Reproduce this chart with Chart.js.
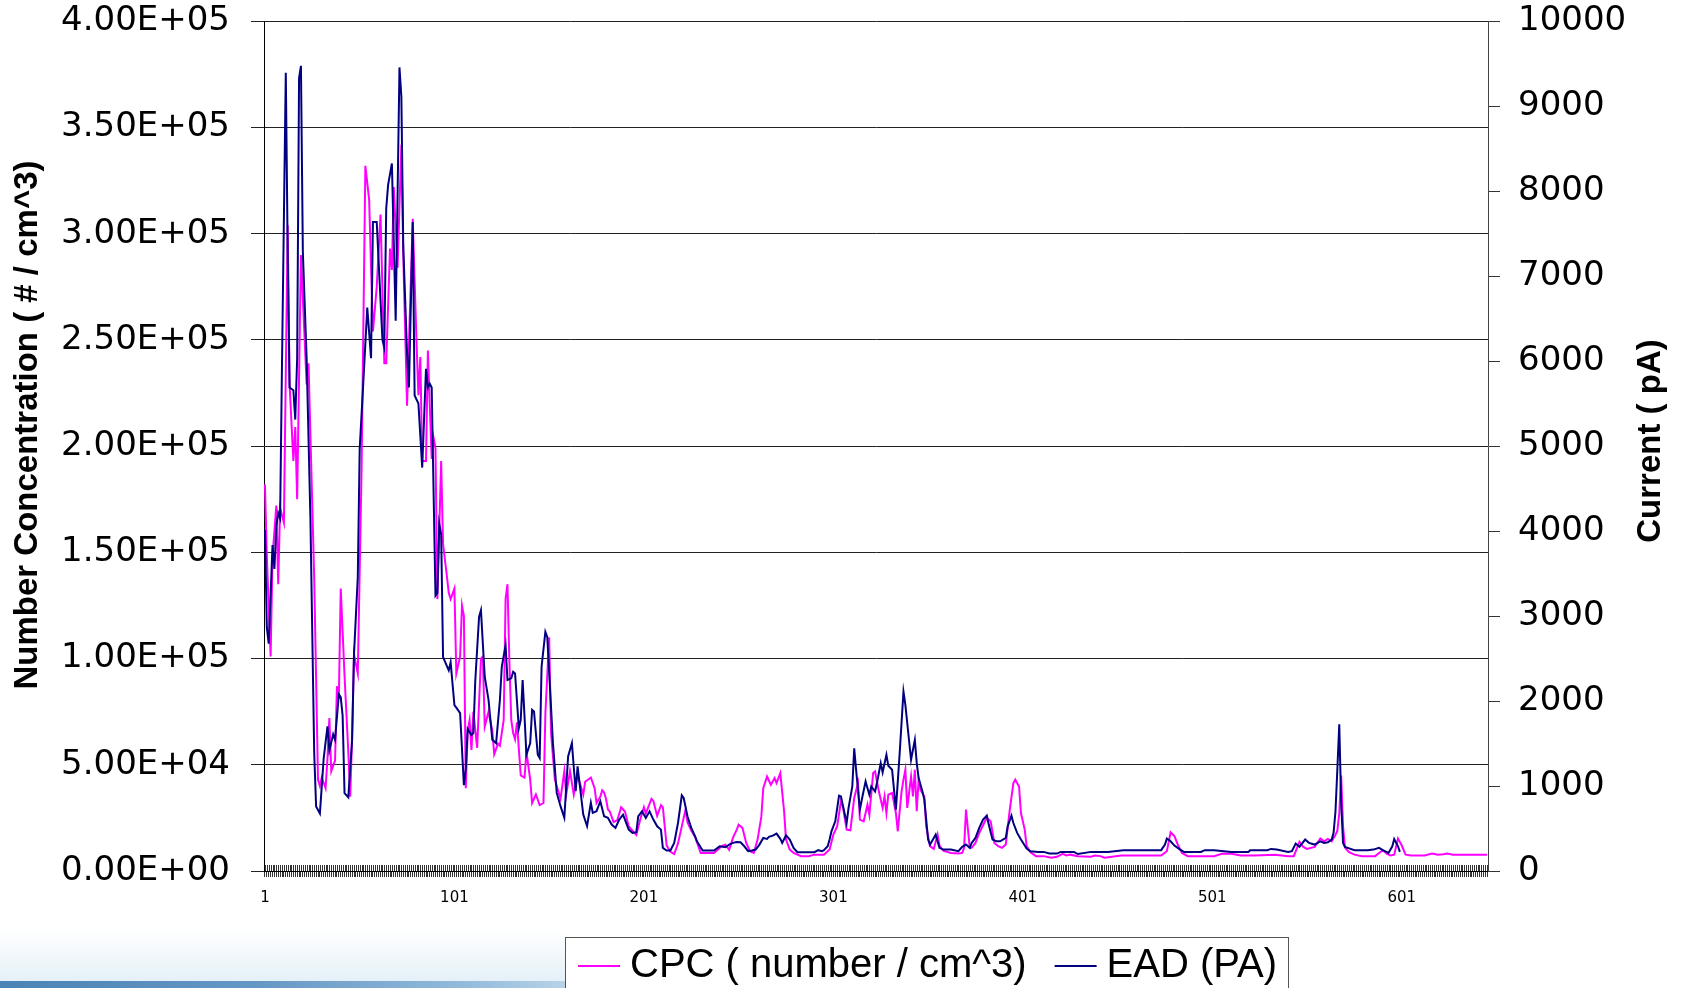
<!DOCTYPE html>
<html>
<head>
<meta charset="UTF-8">
<title>CPC / EAD</title>
<script src="https://cdn.jsdelivr.net/npm/chart.js@4/dist/chart.umd.min.js"></script>
<style>
  html, body { margin: 0; padding: 0; background: #fff; overflow: hidden; }
  #wrap { position: relative; width: 1687px; height: 988px; }
  .glow { position: absolute; left: 0; top: 930px; width: 565px; height: 52px;
          background: linear-gradient(to bottom, rgba(236,244,250,0) 0%, rgba(226,238,247,0.9) 100%); }
  .strip { position: absolute; left: 0; top: 981px; width: 565px; height: 7px;
           background: linear-gradient(to right, #4a83b5 0%, #6597c4 45%, #8fb8da 80%, #b6d2e7 100%); }
  canvas { position: absolute; left: 0; top: 0; }
</style>
</head>
<body>
<div id="wrap">
  <div class="glow"></div>
  <div class="strip"></div>
  <canvas id="chart" width="1687" height="988"></canvas>
</div>
<script>
// CPC (number / cm^3) at the sample index where it bends
const cpcX = [1,2,4,5,7,8,9,11,13,14,16,17,18,20,23,24,27,29,30,31,33,34,35,36,38,39,40,41,43,45,46,47,48,50,
  52,54,56,57,58,60,62,64,65,67,68,69,71,73,74,76,79,81,82,83,84,86,87,88,89,90,91,92,94,95,97,98,99,101,102,104,
  105,106,107,108,109,110,111,113,115,116,117,119,121,122,124,125,127,128,129,130,131,132,133,134,136,138,139,141,
  142,144,146,148,149,151,152,154,157,159,160,162,164,166,169,170,173,175,176,178,179,180,181,182,183,185,187,189,
  191,193,195,197,199,201,202,205,206,208,210,211,213,215,217,219,221,223,224,226,228,231,235,238,242,244,246,248,
  250,251,253,255,257,259,261,263,264,266,268,270,271,273,275,276,278,280,284,288,291,296,299,301,303,305,306,308,
  310,312,314,315,317,319,320,322,323,325,327,328,329,330,332,334,335,337,338,339,340,342,343,344,345,346,347,349,
  350,352,354,356,357,359,363,367,369,370,371,373,374,376,378,381,382,384,386,388,390,392,394,396,397,399,400,402,
  403,405,408,412,416,419,422,424,426,430,437,439,442,444,453,463,474,477,479,481,483,485,488,495,502,506,511,516,
  523,534,541,544,547,549,551,555,558,560,562,564,566,567,568,569,570,571,573,576,580,587,589,591,593,595,597,599,
  601,603,606,613,617,620,623,625,628,646];
const cpcY = [182000,148000,101000,148000,172000,135000,171000,164000,304000,229000,193000,209000,175000,290000,
  229000,239000,138000,43000,40000,44000,39000,53000,72000,47000,52000,87000,81000,133000,92000,56000,35000,63000,
  102000,93000,189000,332000,316000,284000,254000,275000,309000,239000,239000,293000,283000,322000,284000,342000,
  290000,219000,307000,249000,224000,242000,193000,193000,245000,219000,194000,204000,199000,128000,193000,154000,
  139000,131000,128000,133000,93000,101000,125000,120000,39000,66000,71000,57000,75000,58000,100000,101000,68000,
  75000,66000,55000,60000,59000,71000,128000,135000,99000,71000,65000,62000,70000,45000,44000,56000,43000,32000,
  36000,31000,32000,74000,110000,65000,43000,34000,47000,36000,47000,36000,45000,36000,42000,44000,39000,32000,
  35000,38000,37000,34000,29000,28000,23000,24000,30000,28000,21000,19000,17000,24000,30000,27000,34000,33000,
  26000,31000,30000,12000,9000,8000,13000,21000,29000,23000,19000,16000,8500,8500,8500,11700,12400,10000,15600,
  19500,21800,20300,13200,9300,8500,14800,25700,39000,44500,40600,43700,41400,46100,28100,14800,10100,8500,7000,
  7000,7700,7700,10100,17100,21000,32800,30400,19500,19200,34400,41400,24200,23400,31200,26500,46100,46900,37500,
  29700,35100,27300,35900,36700,27300,18700,37500,43000,47700,29700,44500,35100,47700,28100,43000,38300,35100,
  21000,11700,10400,17100,12000,9600,8500,8200,8500,10900,28900,10900,10900,13200,17900,23400,25000,23400,13200,
  11700,10900,12500,28100,41400,43000,39800,27300,19500,11700,8800,7000,7000,6200,6700,8100,7300,7700,7000,6700,
  7300,7000,6300,7300,7300,7300,9300,18200,16400,12000,8500,7000,7000,7000,8100,8100,7300,7300,7600,7000,7000,
  13700,11300,10400,11300,15300,14000,15100,14000,17000,19000,27000,45000,21000,11000,9000,7700,7000,7000,8500,
  9800,8200,7300,7700,15300,12000,7700,7300,7300,8200,7700,7900,8200,7700,7700];

// EAD current (pA)
const eadX = [1,2,3,5,6,7,8,9,10,12,13,14,16,17,18,19,20,21,23,25,27,28,30,32,34,35,37,38,40,41,42,43,45,47,48,
  50,51,53,55,57,58,60,63,64,65,66,68,70,72,73,74,76,77,79,80,82,84,86,87,88,89,91,92,93,94,95,98,99,101,102,104,
  106,107,108,110,111,112,114,115,116,117,119,121,123,125,126,128,129,131,132,133,135,136,137,138,139,141,142,143,
  145,146,147,149,150,153,155,157,159,161,163,165,166,169,171,173,174,176,178,180,182,184,186,188,190,191,193,195,
  197,198,200,202,204,206,208,210,211,213,215,217,219,221,222,224,226,228,229,232,235,238,241,244,246,248,250,252,
  254,256,258,260,262,264,266,267,269,271,273,274,276,278,280,282,286,291,293,295,296,298,299,300,302,304,305,308,
  309,311,312,313,315,316,318,320,321,323,324,326,327,329,330,332,334,336,338,339,341,342,344,345,346,348,349,351,
  352,354,355,357,359,363,367,369,371,373,374,376,378,380,382,383,385,387,389,392,393,395,396,398,400,403,405,409,
  412,415,419,421,428,430,437,446,454,463,474,476,477,479,481,484,486,495,497,502,511,520,521,530,532,535,541,543,
  545,547,550,552,555,558,560,562,564,565,566,567,568,569,570,571,574,576,583,586,589,591,594,596,597,599,600];
const eadY = [4013,2864,2675,3837,3554,4057,4214,4150,5972,9395,7291,5690,5658,5313,6035,9332,9477,7291,6035,4150,
  1388,760,678,1325,1702,1419,1608,1545,2079,2047,1827,917,867,1545,2550,3460,4967,5784,6632,6035,7637,7637,6255,
  6161,7794,8076,8327,6475,9458,9112,7354,6098,5690,7637,5596,5501,4748,5910,5690,5734,5690,3240,3272,4088,3963,
  2518,2361,2456,1953,1922,1859,1011,1200,1671,1600,1622,2236,2990,3069,2678,2287,2013,1544,1505,2013,2404,2658,
  2248,2267,2345,2326,1681,1779,2248,1818,1368,1505,1896,1877,1368,1329,2404,2815,2756,1505,919,763,626,1349,1505,
  939,1231,665,528,802,685,704,821,644,626,546,507,605,663,605,487,448,456,644,702,624,702,605,526,487,272,241,241,
  331,565,890,859,644,507,409,350,241,241,241,291,280,311,331,342,338,291,233,241,252,311,389,378,401,417,440,378,
  331,420,370,272,221,221,221,245,233,245,291,370,467,585,886,878,565,741,995,1445,1190,722,839,1054,898,995,937,
  1035,1270,1160,1367,1238,1191,722,1387,2111,1954,1524,1309,1543,1270,1093,937,839,370,311,389,428,272,252,252,
  233,284,311,272,331,389,507,604,651,546,370,350,350,389,526,651,565,448,370,264,233,225,225,205,205,225,225,200,
  225,225,245,245,245,311,381,350,299,252,225,225,245,245,225,225,245,245,260,252,225,233,323,284,370,331,311,350,
  331,338,370,450,700,1200,1728,800,330,284,260,245,245,252,272,245,213,291,377,291,225];

const seriesNames = ['CPC ( number / cm^3)', 'EAD (PA)'];
const seriesColors = ['#ff00ff', '#000080'];
const leftTitle = 'Number Concentration ( # / cm^3)';
const rightTitle = 'Current ( pA)';
const nSamples = 646;

// tiny lineHeight keeps the layout from pushing the plot top down
const tickFont = { family: '"DejaVu Sans", sans-serif', size: 34, lineHeight: 0.02 };

function sci(v) {
  if (v === 0) return '0.00E+00';
  const e = Math.floor(Math.log10(v));
  return (v / Math.pow(10, e)).toFixed(2) + 'E+' + String(e).padStart(2, '0');
}

function vText(ctx, text, cx, cy) {
  ctx.save();
  ctx.translate(cx, cy);
  ctx.rotate(-Math.PI / 2);
  ctx.textAlign = 'center';
  ctx.textBaseline = 'middle';
  ctx.fillText(text, 0, 0);
  ctx.restore();
}

// axis titles, the inner half of the x ticks and the boxed legend
const decor = {
  id: 'decor',
  beforeDatasetsDraw(chart) {
    const { ctx, chartArea: a, scales: { x } } = chart;
    ctx.save();
    ctx.strokeStyle = '#333';
    ctx.lineWidth = 1;
    ctx.beginPath();
    x.ticks.forEach(t => {
      const px = Math.round(x.getPixelForValue(t.value)) + 0.5;
      ctx.moveTo(px, a.bottom - 6);
      ctx.lineTo(px, a.bottom);
    });
    ctx.stroke();
    ctx.restore();
  },
  afterDraw(chart) {
    const ctx = chart.ctx;
    ctx.save();
    ctx.fillStyle = '#000';
    ctx.font = 'bold 33px "Liberation Sans", Arial, sans-serif';
    vText(ctx, leftTitle, 28, 425);
    vText(ctx, rightTitle, 1651, 441);

    // legend
    ctx.fillStyle = '#fff';
    ctx.fillRect(565.5, 937.5, 723, 60);
    ctx.strokeStyle = '#555';
    ctx.lineWidth = 1;
    ctx.strokeRect(565.5, 937.5, 723, 60);
    ctx.font = '40px "Liberation Sans", Arial, sans-serif';
    ctx.textBaseline = 'middle';
    ctx.textAlign = 'left';
    let lx = 578;
    const ly = 966;
    chart.data.datasets.forEach((ds, i) => {
      ctx.strokeStyle = ds.borderColor;
      ctx.lineWidth = 2;
      ctx.beginPath();
      ctx.moveTo(lx, ly);
      ctx.lineTo(lx + 42, ly);
      ctx.stroke();
      ctx.fillStyle = '#000';
      ctx.fillText(ds.label, lx + 52, ly);
      lx += 52 + ctx.measureText(ds.label).width + 28;
    });
    ctx.restore();
  }
};

const chart = new Chart(document.getElementById('chart'), {
  type: 'line',
  data: {
    datasets: [
      {
        label: seriesNames[0],
        data: cpcX.map((x, i) => ({ x: x, y: cpcY[i] })),
        yAxisID: 'y',
        borderColor: seriesColors[0],
        borderWidth: 2,
        pointRadius: 0,
        tension: 0,
        order: 1
      },
      {
        label: seriesNames[1],
        data: eadX.map((x, i) => ({ x: x, y: eadY[i] })),
        yAxisID: 'y2',
        borderColor: seriesColors[1],
        borderWidth: 2,
        pointRadius: 0,
        tension: 0,
        order: 0
      }
    ]
  },
  options: {
    responsive: false,
    animation: false,
    layout: { padding: { top: 0, left: 0, right: 0, bottom: 0 } },
    plugins: { legend: { display: false }, tooltip: { enabled: false } },
    scales: {
      x: {
        type: 'linear',
        position: 'bottom',
        min: 0.5,
        max: nSamples + 0.5,
        afterFit: s => { s.height = 117; },
        afterBuildTicks: s => {
          s.ticks = Array.from({ length: nSamples }, (_, i) => ({ value: i + 1 }));
        },
        border: { display: true, color: '#000', width: 1 },
        grid: { drawOnChartArea: false, drawTicks: true, tickLength: 6, color: '#333', lineWidth: 1 },
        ticks: {
          autoSkip: false,
          maxRotation: 0,
          minRotation: 0,
          padding: 12,
          color: '#000',
          font: { family: '"DejaVu Sans", sans-serif', size: 15 },
          callback: v => ((v - 1) % 100 === 0) ? String(v) : ''
        }
      },
      y: {
        position: 'left',
        min: 0,
        max: 400000,
        afterFit: s => { s.width = 264; },
        border: { display: true, color: '#000', width: 1 },
        grid: { color: '#222', lineWidth: 1, drawTicks: true, tickLength: 13 },
        ticks: { stepSize: 50000, padding: 21, color: '#000', font: tickFont, callback: v => sci(v) }
      },
      y2: {
        position: 'right',
        min: 0,
        max: 10000,
        afterFit: s => { s.width = 199; },
        border: { display: true, color: '#444', width: 1 },
        grid: { drawOnChartArea: false, drawTicks: true, tickLength: 12, color: '#333' },
        ticks: { stepSize: 1000, padding: 18, color: '#000', font: tickFont, callback: v => String(v) }
      }
    }
  },
  plugins: [decor]
});
</script>
</body>
</html>
